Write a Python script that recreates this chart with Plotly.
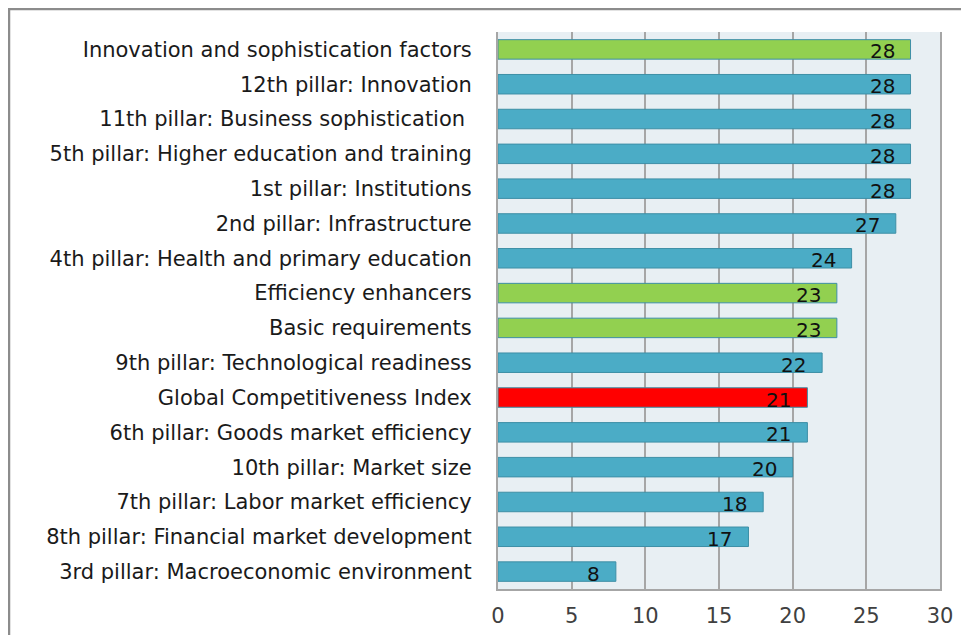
import plotly.graph_objects as go

categories = [
    "Innovation and sophistication factors",
    "12th pillar: Innovation",
    "11th pillar: Business sophistication ",
    "5th pillar: Higher education and training",
    "1st pillar: Institutions",
    "2nd pillar: Infrastructure",
    "4th pillar: Health and primary education",
    "Efficiency enhancers",
    "Basic requirements",
    "9th pillar: Technological readiness",
    "Global Competitiveness Index",
    "6th pillar: Goods market efficiency",
    "10th pillar: Market size",
    "7th pillar: Labor market efficiency",
    "8th pillar: Financial market development",
    "3rd pillar: Macroeconomic environment",
]
values = [28, 28, 28, 28, 28, 27, 24, 23, 23, 22, 21, 21, 20, 18, 17, 8]
groups = ["sub", "pillar", "pillar", "pillar", "pillar", "pillar", "pillar",
          "sub", "sub", "pillar", "gci", "pillar", "pillar", "pillar", "pillar", "pillar"]
x_ticks = [0, 5, 10, 15, 20, 25, 30]

color_map = {"pillar": "#4BACC6", "sub": "#92D050", "gci": "#FF0000"}
colors = [color_map[g] for g in groups]

FONT = "DejaVu Sans"

W, H = 961, 627
L, R, T, B = 490, 29, 24, 46
pw, ph = W - L - R, H - T - B

fig = go.Figure()
fig.add_trace(go.Bar(
    x=values, y=categories, orientation="h",
    marker=dict(color=colors, line=dict(color="#3E8FA6", width=1)),
    width=0.56,
    hoverinfo="x+y",
))

for c, v in zip(categories, values):
    fig.add_annotation(x=v, y=c, text=str(v), showarrow=False,
                       xanchor="right", xshift=-14, yshift=-2,
                       font=dict(family=FONT, size=20, color="#111111"))

fig.update_layout(
    width=W, height=H,
    margin=dict(l=L, r=R, t=T, b=B),
    paper_bgcolor="white",
    plot_bgcolor="#E8EFF3",
    showlegend=False,
    font=dict(family=FONT, size=21, color="#1a1a1a"),
    shapes=[dict(type="rect", xref="paper", yref="paper",
                 x0=(1 - L) / pw, x1=(W + 40 - L) / pw,
                 y0=-(B + 40) / ph, y1=(ph + T - 1) / ph,
                 line=dict(color="#8C8C8C", width=2.5), layer="below")],
)
fig.update_xaxes(range=[0, 30], tickvals=x_ticks, showgrid=True,
                 gridcolor="#A6A6A6", gridwidth=1.5,
                 showline=True, linecolor="#A6A6A6", linewidth=2,
                 ticks="", ticklabelstandoff=7, automargin=False,
                 tickfont=dict(size=21, color="#404040"),
                 zeroline=False, fixedrange=True)
fig.update_yaxes(categoryorder="array", categoryarray=categories[::-1],
                 showline=True, mirror=True, linecolor="#A6A6A6", linewidth=2,
                 ticks="", ticklabelstandoff=20, automargin=False,
                 tickfont=dict(size=21, color="#1a1a1a"), fixedrange=True)

fig.write_html("out.html")
